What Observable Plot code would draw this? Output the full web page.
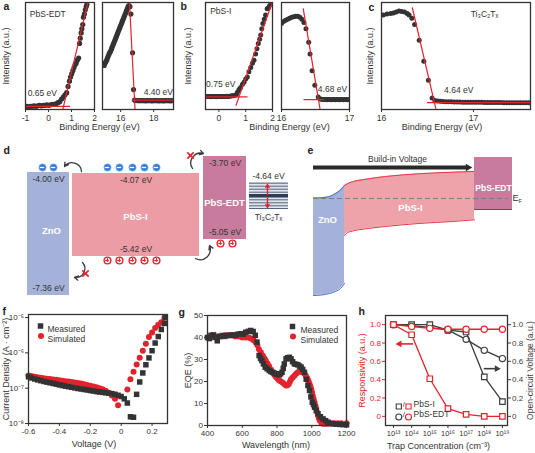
<!DOCTYPE html>
<html>
<head>
<meta charset="utf-8">
<script src="https://cdn.jsdelivr.net/npm/d3@7"></script>
<script src="https://cdn.jsdelivr.net/npm/@observablehq/plot@0.6"></script>
<style>
  html,body{margin:0;padding:0;background:#fff;}
  #fig{position:relative;width:535px;height:453px;overflow:hidden;background:#fff;font-family:"Liberation Sans",Arial,sans-serif;}
</style>
</head>
<body>
<div id="fig"></div>
<script>
// ====================== DATA ======================
// (a) PbS-EDT UPS – valence-band onset side
const aOnsetEnergy = [-0.95,-0.87,-0.79,-0.71,-0.63,-0.55,-0.47,-0.39,-0.31,-0.23,-0.15,-0.07,0.01,0.09,0.17,0.25,0.33,0.41,0.49,0.57,0.65,0.72,0.79,0.85,0.91,0.96,1.01,1.06,1.11,1.16,1.2,1.25,1.31,1.35,1.38,1.42,1.45,1.49,1.52,1.56,1.6,1.64,1.67];
const aOnsetIntensity = [0.02,0.015,0.02,0.02,0.025,0.02,0.025,0.03,0.025,0.03,0.03,0.035,0.03,0.035,0.04,0.04,0.045,0.055,0.065,0.09,0.11,0.13,0.15,0.21,0.26,0.3,0.33,0.36,0.39,0.42,0.43,0.46,0.48,0.62,0.67,0.72,0.76,0.8,0.87,0.9,0.94,0.97,0.99];
// (a) PbS-EDT UPS – secondary-electron cutoff side
const aCutoffEnergy = [15.0,15.05,15.1,15.15,15.2,15.25,15.3,15.35,15.4,15.45,15.5,15.55,15.6,15.65,15.7,15.75,15.8,15.85,15.9,15.95,16.0,16.05,16.1,16.15,16.2,16.25,16.3,16.35,16.4,16.45,16.5,16.56,16.62,16.72,16.78,16.84,16.9,17.0,17.1,17.2,17.3,17.4,17.5,17.6,17.7,17.8,17.9,18.0,18.1,18.2,18.3,18.4,18.5,18.6,18.7,18.8,18.9,19.0,19.1,19.2];
const aCutoffIntensity = [0.41,0.43,0.445,0.46,0.48,0.5,0.52,0.535,0.55,0.57,0.59,0.61,0.63,0.65,0.67,0.69,0.71,0.73,0.75,0.77,0.79,0.81,0.83,0.85,0.87,0.89,0.91,0.93,0.95,0.97,0.98,0.97,0.9,0.53,0.18,0.08,0.076,0.075,0.074,0.075,0.074,0.075,0.073,0.074,0.075,0.074,0.073,0.074,0.075,0.074,0.073,0.074,0.074,0.073,0.074,0.075,0.074,0.073,0.074,0.074];
// (b) PbS-I UPS – onset side
const bOnsetEnergy = [-0.45,-0.4,-0.35,-0.3,-0.25,-0.2,-0.15,-0.1,-0.05,0,0.05,0.1,0.15,0.2,0.25,0.3,0.35,0.4,0.45,0.5,0.55,0.6,0.65,0.69,0.75,0.81,0.88,0.94,1.0,1.06,1.12,1.19,1.25,1.31,1.37,1.42,1.47,1.52,1.56,1.6,1.64,1.69,1.74,1.8,1.85,1.89,1.95];
const bOnsetIntensity = [0.115,0.113,0.115,0.112,0.114,0.113,0.115,0.112,0.114,0.113,0.115,0.113,0.114,0.115,0.114,0.116,0.115,0.117,0.118,0.12,0.122,0.125,0.13,0.155,0.18,0.2,0.23,0.25,0.28,0.3,0.35,0.39,0.43,0.46,0.52,0.57,0.62,0.66,0.7,0.76,0.81,0.85,0.89,0.95,0.96,0.98,1.0];
// (b) PbS-I UPS – cutoff side
const bCutoffEnergy = [16.0,16.03,16.06,16.09,16.12,16.15,16.18,16.21,16.24,16.27,16.3,16.33,16.36,16.4,16.42,16.45,16.49,16.54,16.57,16.59,16.61,16.63,16.65,16.67,16.69,16.71,16.73,16.75,16.77,16.79,16.81,16.83,16.85,16.87,16.89,16.91,16.93,16.95,16.97,16.99];
const bCutoffIntensity = [0.81,0.83,0.84,0.85,0.86,0.87,0.875,0.88,0.88,0.87,0.85,0.82,0.76,0.63,0.52,0.36,0.22,0.11,0.09,0.087,0.086,0.085,0.085,0.084,0.085,0.085,0.084,0.085,0.085,0.084,0.085,0.085,0.084,0.085,0.085,0.084,0.085,0.085,0.084,0.085];
// (c) Ti3C2Tx UPS – cutoff
const cEnergy = [16.02,16.06,16.1,16.13,16.16,16.19,16.22,16.25,16.28,16.3,16.33,16.36,16.41,16.46,16.51,16.55,16.58,16.61,16.64,16.67,16.7,16.73,16.76,16.79,16.82,16.85,16.88,16.91,16.94,16.97,17.0,17.03,17.06,17.09,17.12,17.15,17.18,17.21,17.24,17.27,17.3,17.33,17.36,17.39,17.42,17.45,17.48,17.51,17.54,17.57,17.6];
const cIntensity = [0.89,0.9,0.905,0.91,0.92,0.93,0.925,0.92,0.905,0.89,0.86,0.8,0.65,0.45,0.27,0.1,0.075,0.07,0.068,0.066,0.065,0.064,0.063,0.062,0.062,0.061,0.06,0.06,0.06,0.059,0.059,0.058,0.058,0.058,0.057,0.057,0.057,0.056,0.056,0.056,0.056,0.055,0.055,0.055,0.055,0.055,0.055,0.055,0.055,0.055,0.055];
// linear-fit guide lines (energy, intensity endpoints)
const aOnsetSlopeE = [0.6, 1.72],    aOnsetSlopeI = [-0.03, 1.02];
const aOnsetBaseE  = [-1, 0.92],     aOnsetBaseI  = [0.02, 0.02];
const aCutoffSlopeE = [16.53, 16.87], aCutoffSlopeI = [1.02, -0.01];
const aCutoffBaseE  = [16.7, 19.2],   aCutoffBaseI  = [0.08, 0.08];
const bOnsetSlopeE = [0.64, 2.0],     bOnsetSlopeI = [0.03, 1.02];
const bOnsetBaseE  = [-0.5, 1.05],    bOnsetBaseI  = [0.11, 0.11];
const bCutoffSlopeE = [16.32, 16.565], bCutoffSlopeI = [0.95, 0.0];
const bCutoffBaseE  = [16.33, 16.62],  bCutoffBaseI  = [0.085, 0.085];
const cSlopeE = [16.335, 16.59], cSlopeI = [0.96, 0.0];
const cBaseE  = [16.5, 17.62],   cBaseI  = [0.055, 0.055];

// (d) energy levels (eV)
const dMaterials = ["ZnO", "PbS-I", "PbS-EDT"];
const dConduction = [-4.00, -4.07, -3.70];
const dValence = [-7.36, -5.42, -5.05];
const dMxeneWorkFunction = -4.64;

// (f) dark J–V
const fMeasV = [-0.6,-0.58,-0.56,-0.54,-0.52,-0.5,-0.48,-0.46,-0.44,-0.42,-0.4,-0.38,-0.36,-0.34,-0.32,-0.3,-0.28,-0.26,-0.24,-0.22,-0.2,-0.18,-0.16,-0.14,-0.12,-0.1,-0.08,-0.06,-0.04,-0.02,0,0.02,0.04,0.06,0.08,0.1,0.12,0.14,0.16,0.18,0.2,0.22,0.24,0.26,0.28,0.285];
const fMeasJ = [2.1e-7,1.95e-7,1.82e-7,1.72e-7,1.63e-7,1.55e-7,1.48e-7,1.42e-7,1.36e-7,1.3e-7,1.24e-7,1.19e-7,1.14e-7,1.1e-7,1.06e-7,1.02e-7,9.8e-8,9.5e-8,9.2e-8,8.9e-8,8.6e-8,8.3e-8,8.0e-8,7.8e-8,7.6e-8,7.4e-8,7.2e-8,7.0e-8,6.7e-8,6.3e-8,5.8e-8,5.0e-8,3.8e-8,1.55e-8,1.5e-8,6.7e-8,1.5e-7,2.7e-7,4.6e-7,7.2e-7,1.15e-6,1.9e-6,2.9e-6,4.6e-6,6.8e-6,1.0e-5];
const fSimV = [-0.6,-0.58,-0.56,-0.54,-0.52,-0.5,-0.48,-0.46,-0.44,-0.42,-0.4,-0.38,-0.36,-0.34,-0.32,-0.3,-0.28,-0.26,-0.24,-0.22,-0.2,-0.18,-0.16,-0.14,-0.12,-0.1,-0.08,-0.06,-0.04,-0.02,0.04,0.06,0.08,0.1,0.12,0.14,0.16,0.18,0.2,0.22,0.24,0.26,0.28];
const fSimJ = [2.3e-7,2.2e-7,2.12e-7,2.05e-7,1.98e-7,1.92e-7,1.86e-7,1.81e-7,1.76e-7,1.72e-7,1.68e-7,1.63e-7,1.58e-7,1.54e-7,1.5e-7,1.45e-7,1.4e-7,1.35e-7,1.3e-7,1.24e-7,1.18e-7,1.12e-7,1.06e-7,1.0e-7,9.3e-8,8.5e-8,7.4e-8,6.2e-8,5.0e-8,3.3e-8,9.2e-8,1.8e-7,2.9e-7,4.7e-7,7.3e-7,1.14e-6,1.8e-6,2.8e-6,3.8e-6,5.1e-6,6.3e-6,7.4e-6,9.8e-6];

// (g) EQE spectra
const gMeasWl = [400,410,420,435,445,456,470,485,500,515,530,545,560,575,590,605,620,635,649,663,675,685,697,705,713,722,732,743,755,765,775,785,794,803,813,821,829,836,842,852,862,871,881,890,900,910,920,930,939,948,958,968,978,987,995,1003,1010,1016,1026,1036,1050,1065,1080,1094,1110,1123,1140,1161,1180,1200];
const gMeasEqe = [40,39.5,41,41.2,40,38.5,40.5,40.9,40.5,41,40.9,41.2,41,41.5,41.7,41.5,42.4,42.8,43.2,42.7,41,37.9,31.8,30.5,29.5,28,26.5,25.8,25,24.5,24.2,23.8,23.5,23.3,23,23.5,24.2,26,28,30.3,30.8,31,30.3,29,28,27.8,27.6,27,26.5,25.5,24.2,21,18.2,15.9,13,10.6,9.5,8.3,6.8,5.3,4,3,2.2,1.5,1,0.8,0.6,0.5,0.4,0.3];
const gSimWl = [400,420,440,460,480,500,520,540,560,580,600,620,637,650,665,678,687,696,707,719,728,736,745,754,765,775,785,794,803,813,823,833,843,852,860,868,875,881,890,900,910,920,930,939,948,958,966,974,981,987,992,997,1002,1006,1011,1016,1021,1026,1031,1036,1041,1046,1055,1065,1080,1094,1110,1130,1150,1170,1200];
const gSimEqe = [40,40,40.5,40.5,40.5,41,41,41,40.5,40.5,40,40,40,39.5,38.8,37.7,36.5,34.7,33.3,31.7,30.5,29.4,28.2,27,25.5,24,23,22,21.2,20.5,20,19.4,18.8,18.2,18.3,18.9,20,21,21.8,22.6,23.5,24.2,24.5,24.5,24.2,23.5,22.6,21.5,20.3,19,17.8,16.5,15,13.5,12,10.6,9,7.6,6,4.5,3.3,2.3,1.3,0.8,0.8,0.8,0.9,1,1,1,1];

// (h) trap-concentration dependence
const hTrapConc = [1e13,1e14,1e15,1e16,1e17,1e18,1e19];
const hRespPbSI   = [1.0,0.89,0.41,0.084,0.022,0.0,0.0];
const hRespPbSEDT = [1.0,0.98,0.96,0.95,0.95,0.95,0.95];
const hVocPbSI    = [1.0,1.0,1.0,0.94,0.92,0.43,0.16];
const hVocPbSEDT  = [1.0,0.99,0.97,0.94,0.84,0.72,0.63];

// ====================== HELPERS ======================
const FONT = '"Liberation Sans", Arial, Helvetica, sans-serif';
const INK = "#333333";
const RED = "#e3232c";
const fig = document.getElementById("fig");
const rows = (keys, ...arrays) => arrays[0].map((_, i) => Object.fromEntries(keys.map((k, j) => [k, arrays[j][i]])));
const SUP = {"-":"⁻","0":"⁰","1":"¹","2":"²","3":"³","4":"⁴","5":"⁵","6":"⁶","7":"⁷","8":"⁸","9":"⁹"};
const pow10 = d => "10" + String(Math.round(Math.log10(d))).split("").map(c => SUP[c]).join("");
const dec = d => d === 0 ? "0" : d.toFixed(1);

function panel(box, margins, options) {
  const [x0, y0, x1, y1] = box;
  const [mt, mr, mb, ml] = margins;
  const svg = Plot.plot({
    width: x1 - x0 + ml + mr,
    height: y1 - y0 + mt + mb,
    marginTop: mt, marginRight: mr, marginBottom: mb, marginLeft: ml,
    style: `background:transparent;overflow:visible;font-family:${FONT};font-size:8px;color:${INK};`,
    ...options
  });
  svg.style.position = "absolute";
  svg.style.left = (x0 - ml) + "px";
  svg.style.top = (y0 - mt) + "px";
  fig.appendChild(svg);
  return svg;
}
const yTitle = (t, dx, extra = {}) => Plot.text([t], {frameAnchor: dx < 0 ? "left" : "right", dx, rotate: -90, textAnchor: "middle", fontSize: 9, ...extra});
const xTitle = (t, dx, dy) => Plot.text([t], {frameAnchor: "bottom", dx, dy, textAnchor: "middle", fontSize: 9});

function xps(box, margins, {domain, ticks, e, i, r, slope, base, notes, extra = []}) {
  const pts = rows(["e","i"], e, i);
  return panel(box, margins, {
    x: {domain},
    y: {domain: [-0.01, 1.01], axis: null},
    marks: [
      Plot.dot(pts, {x: "e", y: "i", r, fill: INK, clip: true}),
      Plot.line(rows(["e","i"], ...slope), {x: "e", y: "i", stroke: RED, strokeWidth: 1.2, clip: true}),
      Plot.line(rows(["e","i"], ...base), {x: "e", y: "i", stroke: RED, strokeWidth: 1.2, clip: true}),
      Plot.text(notes.t, {x: notes.x, y: notes.y, text: d => d, fontSize: 8.5, fill: INK}),
      Plot.frame({stroke: INK, strokeWidth: 1.3}),
      Plot.axisX({ticks, tickFormat: d => String(d), tickSize: 3, tickPadding: 2.5, label: null, fontSize: 8.5}),
      ...extra
    ]
  });
}

// ====================== PANEL a ======================
xps([25,2,94,109], [2,0,26,25], {
  domain: [-1, 2], ticks: [-1,0,1,2], e: aOnsetEnergy, i: aOnsetIntensity, r: 2.6,
  slope: [aOnsetSlopeE, aOnsetSlopeI], base: [aOnsetBaseE, aOnsetBaseI],
  notes: {t: ["PbS-EDT", "0.65 eV"], x: [-0.03, -0.27], y: [0.9, 0.14]},
  extra: [yTitle("Intensity (a.u.)", -19), xTitle("Binding Energy (eV)", 39.5, 20)]
});
xps([102,2,173,109], [2,4,26,2], {
  domain: [14.9, 19.2], ticks: [16,18], e: aCutoffEnergy, i: aCutoffIntensity, r: 2.6,
  slope: [aCutoffSlopeE, aCutoffSlopeI], base: [aCutoffBaseE, aCutoffBaseI],
  notes: {t: ["4.40 eV"], x: [18.28], y: [0.15]}
});

// ====================== PANEL b ======================
xps([205,2,272,109], [2,0,26,25], {
  domain: [-0.5, 2], ticks: [0,1,2], e: bOnsetEnergy, i: bOnsetIntensity, r: 2.5,
  slope: [bOnsetSlopeE, bOnsetSlopeI], base: [bOnsetBaseE, bOnsetBaseI],
  notes: {t: ["PbS-I", "0.75 eV"], x: [0.07, 0.07], y: [0.93, 0.23]},
  extra: [yTitle("Intensity (a.u.)", -17)]
});
xps([281,2,349,109], [2,6,26,2], {
  domain: [16, 17], ticks: [16,17], e: bCutoffEnergy, i: bCutoffIntensity, r: 2.5,
  slope: [bCutoffSlopeE, bCutoffSlopeI], base: [bCutoffBaseE, bCutoffBaseI],
  notes: {t: ["4.68 eV"], x: [16.75], y: [0.18]},
  extra: [xTitle("Binding Energy (eV)", -26, 20)]
});

// ====================== PANEL c ======================
xps([381,2,530,109], [2,4,26,20], {
  domain: [16, 17.62], ticks: [16,17], e: cEnergy, i: cIntensity, r: 2.5,
  slope: [cSlopeE, cSlopeI], base: [cBaseE, cBaseI],
  notes: {t: ["4.64 eV", "Ti₃C₂Tₓ"], x: [16.84, 17.12], y: [0.17, 0.9]},
  extra: [yTitle("Intensity (a.u.)", -11), xTitle("Binding Energy (eV)", -14, 20)]
});

// ====================== PANEL d ======================
// schematic layout (not to scale): horizontal extents of each layer and a piecewise energy axis
const dLayerLeft = [27, 72, 203], dLayerRight = [69, 199, 246];
const dFill = ["#a4b2da", "#eb9ca4", "#c97b9d"];
const dEnergyStops = [-7.36, -5.42, -5.05, -4.07, -4.00, -3.70];
const dEnergyPx = [155, 116, 99, 33, 32, 16];
const dEnergyToPx = d3.scaleLinear().domain(dEnergyStops).range(dEnergyPx);
const dLayers = dMaterials.map((m, k) => ({m, cb: dConduction[k], vb: dValence[k], x1: dLayerLeft[k], x2: dLayerRight[k], fill: dFill[k]}));
const eV = v => v.toFixed(2) + " eV";
panel([0,140,290,305], [0,0,0,0], {
  x: {domain: [0, 290], range: [0, 290], axis: null},
  y: {type: "linear", domain: [0, 165], range: [0, 165], transform: dEnergyToPx, axis: null},
  color: {type: "identity"},
  marks: [
    Plot.rect(dLayers, {x1: "x1", x2: "x2", y1: "cb", y2: "vb", fill: "fill"}),
    Plot.text(dLayers, {x: d => (d.x1 + d.x2) / 2, y: "cb", text: d => eV(d.cb), dy: 6.5, fontSize: 8.5, fill: INK}),
    Plot.text(dLayers, {x: d => (d.x1 + d.x2) / 2, y: "vb", text: d => eV(d.vb), dy: -7.5, fontSize: 8.5, fill: INK})
  ]
});
// decorations of the schematic (pixel layout)
const dElectrons = [[42,27],[53,27],[107,27],[119,27],[132,27],[144,27],[156,27]];
const dHoles = [[107,120],[119,120],[132,120],[144,120],[156,120],[220,103],[232,103]];
const dArrowsCCW = [{x1:81,y1:31,x2:64,y2:26},{x1:195,y1:118,x2:209,y2:105}];
const dArrowsCW = [{x1:192,y1:28,x2:203,y2:13},{x1:82,y1:122,x2:74,y2:137}];
const dBlocked = [[190,15],[85,133]];
const dTiLines = [42.7,45.7,48.7,51.7,59.3,62.3,65.3,68];
const dNameX = [51, 135, 224], dNameY = [90, 76, 62];
panel([0,140,290,305], [0,0,0,0], {
  x: {domain: [0, 290], range: [0, 290], axis: null},
  y: {domain: [0, 165], range: [0, 165], axis: null},
  marks: [
    Plot.text(dMaterials, {x: dNameX, y: dNameY, text: d => d, fill: "white", fontWeight: "bold", fontSize: 9.5}),
    Plot.dot(dElectrons, {x: d => d[0], y: d => d[1], r: 3.7, fill: "#3a7ad2", stroke: "#9cc0ec", strokeWidth: 0.6}),
    Plot.ruleY(dElectrons, {y: d => d[1], x1: d => d[0] - 2.2, x2: d => d[0] + 2.2, stroke: "white", strokeWidth: 1.3}),
    Plot.dot(dHoles, {x: d => d[0], y: d => d[1], r: 3.4, fill: "white", stroke: RED, strokeWidth: 1.4}),
    Plot.ruleY(dHoles, {y: d => d[1], x1: d => d[0] - 1.8, x2: d => d[0] + 1.8, stroke: RED, strokeWidth: 1.2}),
    Plot.ruleX(dHoles, {x: d => d[0], y1: d => d[1] - 1.8, y2: d => d[1] + 1.8, stroke: RED, strokeWidth: 1.2}),
    Plot.arrow(dArrowsCCW, {x1: "x1", y1: "y1", x2: "x2", y2: "y2", bend: -70, stroke: "#3b3b3b", strokeWidth: 1.3, headLength: 5}),
    Plot.arrow(dArrowsCW, {x1: "x1", y1: "y1", x2: "x2", y2: "y2", bend: 70, stroke: "#3b3b3b", strokeWidth: 1.3, headLength: 5}),
    Plot.dot(dBlocked, {x: d => d[0], y: d => d[1], symbol: "times", r: 3, stroke: RED, strokeWidth: 1.6}),
    Plot.rect([0], {x1: 249, x2: 288, y1: 42, y2: 68.5, fill: "#dfe3ea"}),
    Plot.ruleY(dTiLines, {x1: 249, x2: 288, stroke: "#56647e", strokeWidth: 1}),
    Plot.ruleY([55.3], {x1: 249, x2: 288, stroke: "#2e3c58", strokeWidth: 3.5}),
    Plot.arrow([{x1:267,y1:54,x2:267,y2:44},{x1:267,y1:57,x2:267,y2:67}], {x1:"x1",y1:"y1",x2:"x2",y2:"y2", stroke: RED, strokeWidth: 1.4, headLength: 3.5}),
    Plot.text([eV(dMxeneWorkFunction)], {x: [268], y: [36], fontSize: 8.5, fill: INK}),
    Plot.text(["Ti₃C₂Tₓ"], {x: [268], y: [77], fontSize: 8.5, fill: INK})
  ]
});

// ====================== PANEL e ======================
const eZnoX = [28, 36, 44, 50, 55, 59];
const eZnoTop = [57.5, 57.2, 56, 53, 49.5, 45];
const eZnoBottom = [155, 154.5, 153, 151, 148, 143];
const ePbsIX = [59, 63, 83, 100, 133, 167, 189];
const ePbsITop = [45, 42.7, 38.3, 36, 33.3, 31.7, 31];
const ePbsIBottom = [95, 91.7, 88, 86, 83, 81, 79.3];
const eZno = rows(["x","top","bot"], eZnoX, eZnoTop, eZnoBottom);
const ePbsI = rows(["x","top","bot"], ePbsIX, ePbsITop, ePbsIBottom);
panel([285,140,535,305], [0,0,0,0], {
  x: {domain: [0, 250], range: [0, 250], axis: null},
  y: {domain: [0, 165], range: [0, 165], axis: null},
  marks: [
    Plot.areaY(eZno, {x: "x", y1: "bot", y2: "top", fill: "#a4b2da", curve: "monotone-x"}),
    Plot.line(eZno, {x: "x", y: "top", stroke: "#4c6bc4", strokeWidth: 1, curve: "monotone-x"}),
    Plot.line(eZno, {x: "x", y: "bot", stroke: "#4c6bc4", strokeWidth: 1, curve: "monotone-x"}),
    Plot.areaY(ePbsI, {x: "x", y1: "bot", y2: "top", fill: "#eea2aa", curve: "monotone-x"}),
    Plot.line(ePbsI, {x: "x", y: "top", stroke: "#e2374a", strokeWidth: 1, curve: "monotone-x"}),
    Plot.line(ePbsI, {x: "x", y: "bot", stroke: "#e2374a", strokeWidth: 1, curve: "monotone-x"}),
    Plot.rect([0], {x1: 189, x2: 227, y1: 17, y2: 69, fill: "#c97b9d"}),
    Plot.ruleY([69], {x1: 189, x2: 227, stroke: "#c4204e", strokeWidth: 1}),
    Plot.ruleY([58], {x1: 28, x2: 223, stroke: "#7d7d7d", strokeWidth: 1.2, strokeDasharray: "5,3"}),
    Plot.ruleY([27], {x1: 28, x2: 182, stroke: "#2a2a2a", strokeWidth: 3.8}),
    Plot.dot([0], {x: [182.5], y: [27], symbol: "triangle2", r: 3.6, rotate: 90, fill: "#2a2a2a"}),
    Plot.text(["Build-in Voltage"], {x: [112], y: [18.5], fontSize: 8.5, fill: INK}),
    Plot.text(["ZnO", "PbS-I"], {x: [42, 125], y: [79, 67], text: d => d, fill: "white", fontWeight: "bold", fontSize: 9.5}),
    Plot.text(["PbS-EDT"], {x: [208], y: [48], fill: "white", fontWeight: "bold", fontSize: 8.5}),
    Plot.text(["E"], {x: [227], y: [58], textAnchor: "start", fontSize: 9, fill: INK}),
    Plot.text(["F"], {x: [233], y: [61], textAnchor: "start", fontSize: 5.5, fill: INK})
  ]
});

// ====================== PANEL f ======================
const fMeas = rows(["v","j"], fMeasV, fMeasJ);
const fSim = rows(["v","j"], fSimV, fSimJ);
panel([28,314,167,423], [4,6,30,30], {
  x: {domain: [-0.6, 0.3]},
  y: {type: "log", domain: [1e-8, 1.22e-5]},
  marks: [
    Plot.dot(fSim, {x: "v", y: "j", r: 3, fill: RED}),
    Plot.dot(fMeas, {x: "v", y: "j", symbol: "square", r: 3.1, fill: INK}),
    Plot.frame({stroke: INK, strokeWidth: 1.3}),
    Plot.axisX({ticks: [-0.6,-0.4,-0.2,0,0.2], tickFormat: dec, tickSize: 3, tickPadding: 2, label: null, fontSize: 8}),
    Plot.axisY({ticks: [1e-8,1e-7,1e-6,1e-5], tickFormat: pow10, tickSize: 3, tickPadding: 1.5, label: null, fontSize: 8}),
    Plot.dot([0], {frameAnchor: "top-left", dx: 12, dy: 11.5, symbol: "square", r: 3.1, fill: INK}),
    Plot.dot([0], {frameAnchor: "top-left", dx: 12.5, dy: 21.5, r: 3, fill: RED}),
    Plot.text(["Measured"], {frameAnchor: "top-left", dx: 19, dy: 11.5, textAnchor: "start", fontSize: 8.5}),
    Plot.text(["Simulated"], {frameAnchor: "top-left", dx: 19, dy: 21.5, textAnchor: "start", fontSize: 8.5}),
    yTitle("Current Density (A · cm⁻²)", -22),
    xTitle("Voltage (V)", -4, 23)
  ]
});

// ====================== PANEL g ======================
const gMeas = rows(["w","q"], gMeasWl, gMeasEqe);
const gSim = rows(["w","q"], gSimWl, gSimEqe);
panel([207,315,346,425], [4,6,30,24], {
  x: {domain: [400, 1200]},
  y: {domain: [0, 50]},
  marks: [
    Plot.dot(gSim, {x: "w", y: "q", r: 3, fill: RED}),
    Plot.dot(gMeas, {x: "w", y: "q", symbol: "square", r: 3.1, fill: INK}),
    Plot.frame({stroke: INK, strokeWidth: 1.3}),
    Plot.axisX({ticks: [400,600,800,1000,1200], tickFormat: d => String(d), tickSize: 3, tickPadding: 2, label: null, fontSize: 8}),
    Plot.axisY({ticks: [0,10,20,30,40,50], tickSize: 3, tickPadding: 1.5, label: null, fontSize: 8}),
    Plot.dot([0], {frameAnchor: "top-left", dx: 85, dy: 11, symbol: "square", r: 3.1, fill: INK}),
    Plot.dot([0], {frameAnchor: "top-left", dx: 85.5, dy: 21, r: 3, fill: RED}),
    Plot.text(["Measured"], {frameAnchor: "top-left", dx: 93, dy: 11, textAnchor: "start", fontSize: 8.5}),
    Plot.text(["Simulated"], {frameAnchor: "top-left", dx: 93, dy: 21, textAnchor: "start", fontSize: 8.5}),
    yTitle("EQE (%)", -19),
    xTitle("Wavelength (nm)", -1, 22)
  ]
});

// ====================== PANEL h ======================
const hRows = rows(["c","rI","rE","vI","vE"], hTrapConc, hRespPbSI, hRespPbSEDT, hVocPbSI, hVocPbSEDT);
const DK = "#3d3d3d";
const openMark = (y, symbol, stroke) => [
  Plot.line(hRows, {x: "c", y, stroke, strokeWidth: 1.3}),
  Plot.dot(hRows, {x: "c", y, symbol, r: 3.1, stroke, fill: "white", strokeWidth: 1.2})
];
panel([385,315,507,425], [4,28,32,30], {
  x: {type: "log", domain: [10 ** 12.56, 10 ** 19.28]},
  y: {domain: [-0.1, 1.1]},
  marks: [
    ...openMark("vE", "circle", DK),
    ...openMark("vI", "square", DK),
    ...openMark("rE", "circle", RED),
    ...openMark("rI", "square", RED),
    Plot.ruleY([0.79], {x1: 10 ** 13.4, x2: 10 ** 14.1, stroke: RED, strokeWidth: 1.6}),
    Plot.dot([0], {x: [10 ** 13.33], y: [0.79], symbol: "triangle2", r: 3.3, rotate: -90, fill: RED}),
    Plot.ruleY([0.52], {x1: 10 ** 18.0, x2: 10 ** 18.62, stroke: DK, strokeWidth: 1.6}),
    Plot.dot([0], {x: [10 ** 18.69], y: [0.52], symbol: "triangle2", r: 3.3, rotate: 90, fill: DK}),
    Plot.frame({stroke: INK, strokeWidth: 1.3}),
    Plot.axisX({ticks: hTrapConc, tickFormat: pow10, tickSize: 3, tickPadding: 2, label: null, fontSize: 7.5}),
    Plot.axisY({anchor: "left", ticks: [0,0.2,0.4,0.6,0.8,1], tickFormat: dec, color: RED, tickSize: 3, tickPadding: 1.5, label: null, fontSize: 8}),
    Plot.axisY({anchor: "right", ticks: [0,0.2,0.4,0.6,0.8,1], tickFormat: dec, color: DK, tickSize: 3, tickPadding: 1.5, label: null, fontSize: 8}),
    Plot.dot([0], {frameAnchor: "bottom-left", dx: 13.3, dy: -19, symbol: "square", r: 2.9, stroke: DK, fill: "white", strokeWidth: 1.1}),
    Plot.text(["/"], {frameAnchor: "bottom-left", dx: 18.3, dy: -19, textAnchor: "middle", fontSize: 8, fill: DK}),
    Plot.dot([0], {frameAnchor: "bottom-left", dx: 23, dy: -19, symbol: "square", r: 2.9, stroke: RED, fill: "white", strokeWidth: 1.1}),
    Plot.text(["PbS-I"], {frameAnchor: "bottom-left", dx: 28, dy: -19, textAnchor: "start", fontSize: 8.5}),
    Plot.dot([0], {frameAnchor: "bottom-left", dx: 13.3, dy: -8.5, r: 3, stroke: DK, fill: "white", strokeWidth: 1.1}),
    Plot.text(["/"], {frameAnchor: "bottom-left", dx: 18.3, dy: -8.5, textAnchor: "middle", fontSize: 8, fill: DK}),
    Plot.dot([0], {frameAnchor: "bottom-left", dx: 23, dy: -8.5, r: 3, stroke: RED, fill: "white", strokeWidth: 1.1}),
    Plot.text(["PbS-EDT"], {frameAnchor: "bottom-left", dx: 28, dy: -8.5, textAnchor: "start", fontSize: 8.5}),
    yTitle("Responsivity (a.u.)", -23, {fill: RED}),
    yTitle("Open-circuit Voltage (a.u.)", 22.5, {fill: DK, fontSize: 8.5}),
    xTitle("Trap Concentration (cm⁻³)", -8, 23)
  ]
});

// ====================== PANEL LETTERS ======================
const panelLetters = ["a","b","c","d","e","f","g","h"];
const letterX = [3, 180, 368, 3, 307, 2, 178, 358];
const letterY = [6, 6, 7, 150, 150, 311, 312, 311];
panel([0,0,535,453], [0,0,0,0], {
  x: {domain: [0, 535], range: [0, 535], axis: null},
  y: {domain: [0, 453], range: [0, 453], axis: null},
  marks: [Plot.text(panelLetters, {x: letterX, y: letterY, text: d => d, textAnchor: "start", fontWeight: "bold", fontSize: 10.5, fill: "#222"})]
});
</script>
</body>
</html>
